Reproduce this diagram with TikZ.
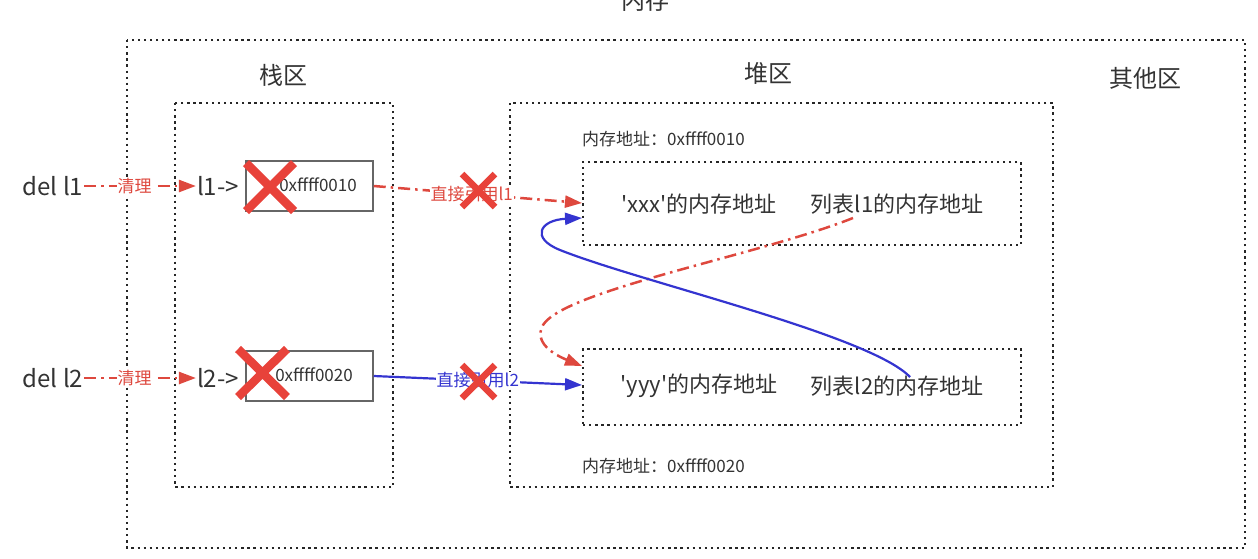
\documentclass[tikz,border=0pt]{standalone}
\usepackage{fontspec}
\setmainfont[Ligatures=TeXOff]{Noto Sans CJK SC}
\usetikzlibrary{arrows.meta}
\definecolor{myred}{RGB}{222,72,62}
\definecolor{xred}{RGB}{232,66,58}
\definecolor{myblue}{RGB}{52,52,208}
\definecolor{txt}{RGB}{51,51,51}
\begin{document}
\begin{tikzpicture}[x=1pt,y=-1pt,
  every node/.style={text=txt, inner sep=1pt},
  dotbox/.style={draw=black!85, line width=2.3pt, dash pattern=on 2.3pt off 3.8pt},
  bigtxt/.style={font=\fontsize{24}{28}\selectfont},
  midtxt/.style={font=\fontsize{22}{26}\selectfont},
  smalltxt/.style={font=\fontsize{17}{20}\selectfont},
  ptrbox/.style={draw=black!60, line width=1.5pt, minimum width=127pt, minimum height=50pt},
  ptrtxt/.style={font=\fontsize{17}{20}\selectfont},
  redarr/.style={draw=myred, line width=2.5pt, dash pattern=on 12pt off 5pt on 2.5pt off 5pt, -{Triangle[length=17pt,width=12pt]}},
  bluearr/.style={draw=myblue, line width=2.2pt, -{Triangle[length=17pt,width=12pt]}},
  redlbl/.style={fill=white, text=myred, inner sep=1pt, font=\fontsize{17}{20}\selectfont},
  bluelbl/.style={fill=white, text=myblue, inner sep=1pt, font=\fontsize{17}{20}\selectfont},
  xmark/.style={draw=xred, line width=8.5pt},
  xsmall/.style={draw=xred, line width=6.5pt}
]
\useasboundingbox (0,0) rectangle (1258,558);

% title
\node[bigtxt] (title) at (645,0) {内存};
% outer memory box
\draw[dotbox] (127,40) rectangle (1245,548);
\node[bigtxt] (stacklbl) at (283,75) {栈区};
\node[bigtxt] (heaplbl) at (768,73) {堆区};
\node[bigtxt] (otherlbl) at (1145,78) {其他区};

% stack & heap boxes
\draw[dotbox] (175,103) rectangle (393,487);
\draw[dotbox] (510,103) rectangle (1053,487);

% heap objects
\node[smalltxt, anchor=west] (addr1) at (581,139) {内存地址：0xffff0010};
\node[dotbox, minimum width=438pt, minimum height=83pt] (obj1) at (802,203.5) {};
\node[midtxt] (xxx) at (699,204) {'xxx'的内存地址};
\node[midtxt] (lst1) at (897,204) {列表l1的内存地址};

\node[dotbox, minimum width=438pt, minimum height=76pt] (obj2) at (802,387) {};
\node[midtxt] (yyy) at (699,386) {'yyy'的内存地址};
\node[midtxt] (lst2) at (897,386) {列表l2的内存地址};
\node[smalltxt, anchor=west] (addr2) at (581,466) {内存地址：0xffff0020};

% del statements
\node[bigtxt] (del1) at (53,186) {del l1};
\node[bigtxt] (del2) at (53,378) {del l2};
\node[bigtxt] (l1) at (218,186) {l1->};
\node[bigtxt] (l2) at (218,378) {l2->};

% pointer boxes
\node[ptrbox] (p1) at (309.5,186) {};
\node[ptrbox] (p2) at (309.5,376) {};
\node[ptrtxt] (p1t) at (318,185) {0xffff0010};
\node[ptrtxt] (p2t) at (314,375) {0xffff0020};

% clear arrows
\draw[redarr] (del1.east) -- node[redlbl, pos=0.45] (clr1) {清理} (l1.west);
\draw[redarr] (del2.east) -- node[redlbl, pos=0.45] (clr2) {清理} (l2.west);

% direct references
\coordinate (in1) at (582,203);
\coordinate (in2) at (582,385);
\draw[redarr] (p1.east) -- node[redlbl, pos=0.47] (ref1) {直接引用l1} (in1);
\draw[bluearr] (p2.east) -- node[bluelbl, pos=0.5] (ref2) {直接引用l2} (in2);

% cross references
\coordinate (rs) at (853,218);
\coordinate (rt) at (582,366);
\draw[redarr] (rs) .. controls (760,255) and (565,290) .. (543,325)
   .. controls (533,343) and (555,355) .. (rt);
\coordinate (bs) at (910,377);
\coordinate (bt) at (582,218);
\draw[bluearr] (bs) .. controls (870,335) and (640,282) .. (560,250)
   .. controls (530,238) and (540,220) .. (bt);

% X marks
\draw[xmark] (246,163) -- (294,211) (294,163) -- (246,211);
\draw[xmark] (238,349) -- (287,397) (287,349) -- (238,397);
\draw[xsmall] (462,174) -- (495,207) (495,174) -- (462,207);
\draw[xsmall] (462,365) -- (495,398) (495,365) -- (462,398);
\end{tikzpicture}
\end{document}
